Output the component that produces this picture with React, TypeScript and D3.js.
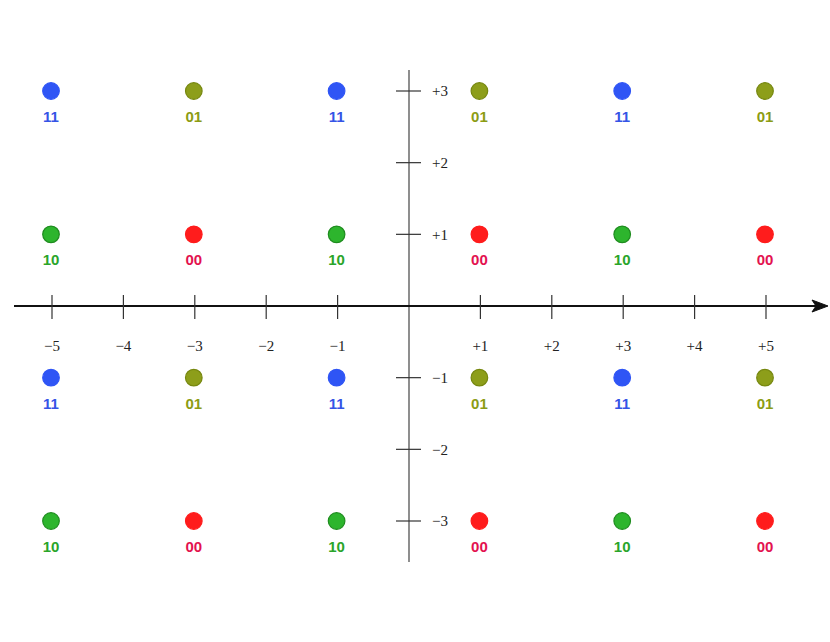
import React from "react";
import * as d3 from "d3";

const xTicks = [-5, -4, -3, -2, -1, 1, 2, 3, 4, 5];
const yTicks = [3, 2, 1, -1, -2, -3];
const xLevels = [-5, -3, -1, 1, 3, 5];
const yLevels = [3, 1, -1, -3];
const symbolLabels = [
  ["11", "01", "11", "01", "11", "01"],
  ["10", "00", "10", "00", "10", "00"],
  ["11", "01", "11", "01", "11", "01"],
  ["10", "00", "10", "00", "10", "00"],
];
const dotFill: Record<string, string> = { "11": "#2f55f5", "01": "#8d9e1a", "10": "#2db52d", "00": "#ff1c1c" };
const dotStroke: Record<string, string> = { "11": "#2f55f5", "01": "#76870f", "10": "#1f8c1f", "00": "#ff1c1c" };
const textFill: Record<string, string> = { "11": "#3554e6", "01": "#8c9c14", "10": "#2aa52a", "00": "#e3124f" };

const fmt = (v: number) => (v > 0 ? "+" + v : "\u2212" + Math.abs(v));

export default function App() {
  const x = d3.scaleLinear().domain([-5, 5]).range([52, 766]);
  const y = d3.scaleLinear().domain([3, -3]).range([91, 521]);
  const x0 = x(0);
  const y0 = y(0);
  const points: { xv: number; yv: number; lab: string }[] = [];
  yLevels.forEach((yv, i) => xLevels.forEach((xv, j) => points.push({ xv, yv, lab: symbolLabels[i][j] })));

  return (
    <svg width={830} height={642} style={{ position: "absolute", left: 0, top: 0, background: "#fff" }}>
      {/* y axis */}
      <line x1={x0} x2={x0} y1={70} y2={562} stroke="#444" strokeWidth={1.2} />
      {yTicks.map((t) => (
        <g key={"yt" + t}>
          <line x1={x0 - 13} x2={x0 + 12} y1={y(t)} y2={y(t)} stroke="#333" strokeWidth={1.2} />
          <text x={432} y={y(t)} dy="0.35em" fontFamily="Liberation Serif, Times New Roman, serif" fontSize={15} fill="#222">
            {fmt(t)}
          </text>
        </g>
      ))}
      {/* x axis */}
      <line x1={14} x2={820} y1={y0} y2={y0} stroke="#111" strokeWidth={2} />
      <path d={`M828,${y0} L812,${y0 - 6} L816,${y0} L812,${y0 + 6} Z`} fill="#111" stroke="#111" strokeWidth={1} strokeLinejoin="round" />
      {xTicks.map((t) => (
        <g key={"xt" + t}>
          <line x1={x(t)} x2={x(t)} y1={y0 - 11} y2={y0 + 13} stroke="#333" strokeWidth={1.2} />
          <text x={x(t)} y={346} dy="0.35em" textAnchor="middle" fontFamily="Liberation Serif, Times New Roman, serif" fontSize={15} fill="#222">
            {fmt(t)}
          </text>
        </g>
      ))}
      {/* constellation points */}
      {points.map((p, i) => (
        <g key={"p" + i}>
          <circle cx={x(p.xv) - 1} cy={y(p.yv)} r={8.3} fill={dotFill[p.lab]} stroke={dotStroke[p.lab]} strokeWidth={1.2} />
          <text x={x(p.xv) - 1} y={y(p.yv) + 31} textAnchor="middle" fontFamily="Liberation Sans, Arial, sans-serif" fontWeight="bold" fontSize={15} fill={textFill[p.lab]}>
            {p.lab}
          </text>
        </g>
      ))}
    </svg>
  );
}
